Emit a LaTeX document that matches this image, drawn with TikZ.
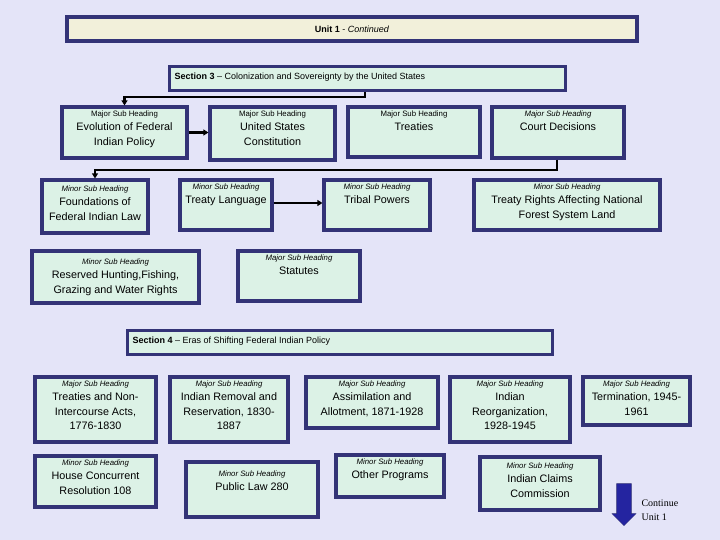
\documentclass[tikz,border=0pt]{standalone}
\usepackage{fontspec}
\setmainfont{Liberation Sans}
\newfontfamily\tms{Liberation Serif}
\usetikzlibrary{arrows.meta,shapes.arrows}
\definecolor{bg}{HTML}{E4E4F8}
\definecolor{bfill}{HTML}{DCF2E6}
\definecolor{bdr}{HTML}{333377}
\definecolor{ufill}{HTML}{F2F0DA}
\tikzset{box/.style={draw=bdr,line width=3.2pt,fill=bfill,inner sep=0pt},
conn/.style={line width=2.2pt,-{Triangle[length=5pt,width=6pt]}}}
\newcommand{\hs}[1]{{\fontsize{7.8}{9}\selectfont #1}\\[0pt]}
\newcommand{\hsi}[1]{{\fontsize{7.8}{9}\selectfont\itshape #1}\\[0pt]}
\newcommand{\mt}{\fontsize{10.8}{14.2}\selectfont}
\newcommand{\bx}[7][box]{%
\pgfmathsetmacro{\cx}{(#3+#5)/2}\pgfmathsetmacro{\cy}{(#4+#6)/2}%
\pgfmathsetmacro{\ww}{#5-#3}\pgfmathsetmacro{\hh}{#6-#4}%
\pgfmathsetmacro{\wi}{#5-#3-4}\pgfmathsetmacro{\hi}{#6-#4-4}%
\node[#1,minimum width=\ww pt,minimum height=\hh pt] (#2) at (\cx,\cy)
{\parbox[c][\hi pt][t]{\wi pt}{\centering\vspace{2pt}#7}};}
\begin{document}
\begin{tikzpicture}[x=1pt,y=-1pt]
\fill[bg] (0,0) rectangle (720,540);
\useasboundingbox (0,0) rectangle (720,540);
\node[box,fill=ufill,minimum width=570pt,minimum height=24pt,font=\fontsize{9}{10}\selectfont] (u) at (352,29) {\textbf{Unit 1} - \textit{Continued}};
\node[box,minimum width=396pt,minimum height=24pt,anchor=north west,fill=bfill] (s3) at (168,65) {};
\node[anchor=west,font=\fontsize{9}{10}\selectfont] (s3t) at (171,77) {\textbf{Section 3} -- Colonization and Sovereignty by the United States};
\bx{evo}{62}{107}{187}{158}{\hs{Major Sub Heading}\mt Evolution of Federal\\Indian Policy}
\bx{usc}{210}{107}{335}{160}{\hs{Major Sub Heading}\mt United States\\Constitution}
\bx{tre}{348}{107}{480}{157}{\hs{Major Sub Heading}\mt Treaties}
\bx{crt}{492}{107}{624}{158}{\hsi{Major Sub Heading}\mt Court Decisions}
\bx{fnd}{42}{180}{148}{233}{\vspace{2pt}\hsi{Minor Sub Heading}\mt Foundations of\\Federal Indian Law}
\bx{tl}{180}{180}{272}{230}{\hsi{Minor Sub Heading}\mt Treaty Language}
\bx{tp}{324}{180}{430}{230}{\hsi{Minor Sub Heading}\mt Tribal Powers}
\bx{trn}{474}{180}{660}{230}{\hsi{Minor Sub Heading}\mt Treaty Rights Affecting National\\Forest System Land}
\bx{rsv}{32}{251}{199}{303}{\vspace{4pt}\hsi{Minor Sub Heading}\mt Reserved Hunting,Fishing,\\Grazing and Water Rights}
\bx{sta}{238}{251}{360}{301}{\hsi{Major Sub Heading}\mt Statutes}
\node[box,minimum width=425pt,minimum height=24pt,anchor=north west] (s4) at (126,329) {};
\node[anchor=west,font=\fontsize{9}{10}\selectfont] (s4t) at (129,341) {\textbf{Section 4} -- Eras of Shifting Federal Indian Policy};
\bx{e1}{35}{377}{156}{442}{\hsi{Major Sub Heading}\mt Treaties and Non-\\Intercourse Acts,\\1776-1830}
\bx{e2}{170}{377}{288}{442}{\hsi{Major Sub Heading}\mt Indian Removal and\\Reservation, 1830-\\1887}
\bx{e3}{306}{377}{438}{428}{\hsi{Major Sub Heading}\mt Assimilation and\\Allotment, 1871-1928}
\bx{e4}{450}{377}{570}{442}{\hsi{Major Sub Heading}\mt Indian\\Reorganization,\\1928-1945}
\bx{e5}{583}{377}{690}{425}{\hsi{Major Sub Heading}\mt Termination, 1945-\\1961}
\bx{m1}{35}{456}{156}{507}{\hsi{Minor Sub Heading}\mt House Concurrent\\Resolution 108}
\bx{m2}{186}{462}{318}{517}{\vspace{5pt}\hsi{Minor Sub Heading}\mt Public Law 280}
\bx{m3}{336}{455}{444}{497}{\hsi{Minor Sub Heading}\mt Other Programs}
\bx{m4}{480}{457}{600}{510}{\vspace{2pt}\hsi{Minor Sub Heading}\mt Indian Claims\\Commission}
\coordinate (c1) at (365,97);
\coordinate (c2) at (557,170);
\draw[conn] (s3.south -| c1) |- (c1) -| (evo.north);
\draw[conn] (evo.east) -- (evo.east -| usc.west);
\draw[conn] (crt.south -| c2) |- (c2) -| (fnd.north);
\draw[conn] (tl.east |- 0,203) -- (tp.west |- 0,203);
\node[single arrow,shape border rotate=270,fill=bdr!70!blue,draw=bdr,minimum width=24pt,single arrow head extend=2pt,single arrow tip angle=90,minimum height=42pt,inner sep=3pt] (arr) at (624,501) {};
\node[anchor=west,align=left,font=\tms\fontsize{10}{14}\selectfont] (cont) at (638,510) {Continue\\Unit 1};
\end{tikzpicture}
\end{document}
